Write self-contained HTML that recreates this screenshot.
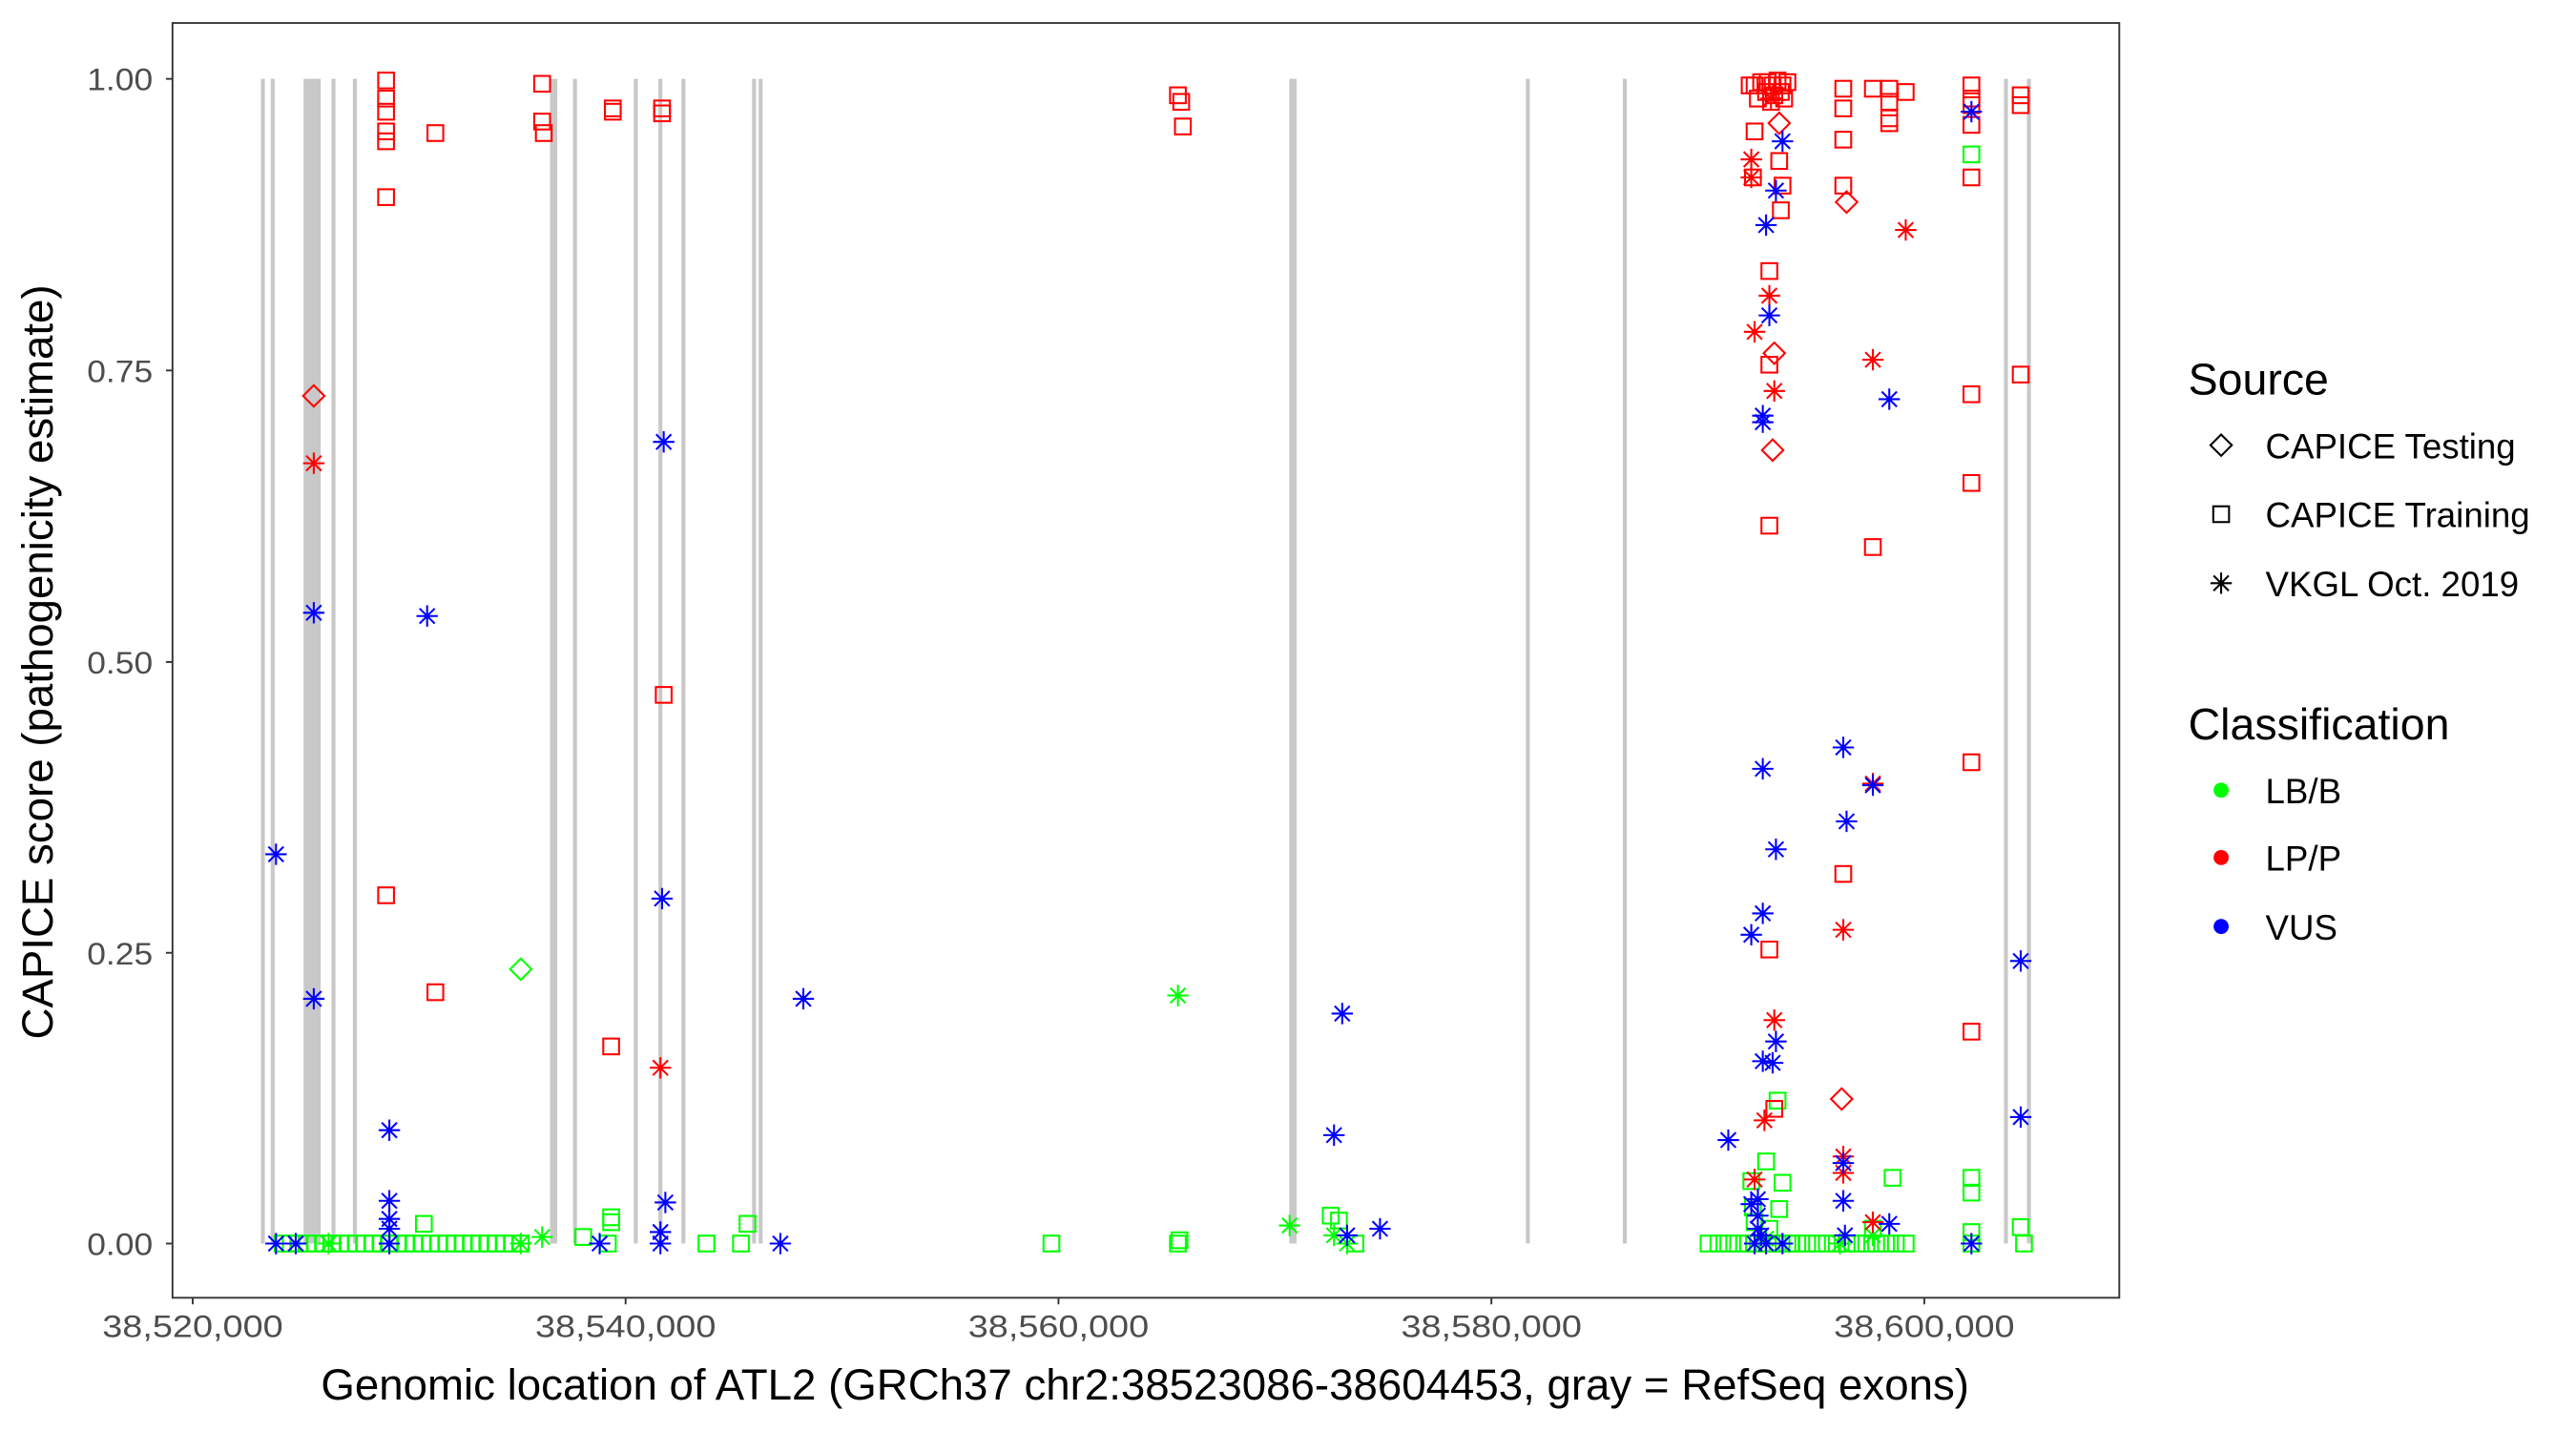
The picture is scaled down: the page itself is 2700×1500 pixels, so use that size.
<!DOCTYPE html>
<html><head><meta charset="utf-8"><style>
html,body{margin:0;padding:0;background:#fff;}
svg{display:block;font-family:"Liberation Sans",Arial,sans-serif;}
</style></head><body>
<svg id="s" width="2700" height="1500" viewBox="0 0 1568 871.1" xmlns="http://www.w3.org/2000/svg">
<rect x="0" y="0" width="1568" height="871.1" fill="#fff"/>
<g id="exons"></g>
<g id="pts"></g>
<rect x="105" y="14" width="1185" height="776" fill="none" stroke="#333" stroke-width="1.1"/>
<g stroke="#333" stroke-width="1.1">
<line x1="101" x2="105" y1="48" y2="48"/><line x1="101" x2="105" y1="225.5" y2="225.5"/><line x1="101" x2="105" y1="403" y2="403"/><line x1="101" x2="105" y1="580" y2="580"/><line x1="101" x2="105" y1="757" y2="757"/>
<line x1="117.3" x2="117.3" y1="790" y2="794"/><line x1="380.8" x2="380.8" y1="790" y2="794"/><line x1="644.3" x2="644.3" y1="790" y2="794"/><line x1="907.8" x2="907.8" y1="790" y2="794"/><line x1="1171.3" x2="1171.3" y1="790" y2="794"/>
</g>
<g fill="#4d4d4d" font-size="19" text-anchor="end">
<text x="93" y="55" textLength="40" lengthAdjust="spacingAndGlyphs">1.00</text><text x="93" y="232.5" textLength="40" lengthAdjust="spacingAndGlyphs">0.75</text><text x="93" y="410" textLength="40" lengthAdjust="spacingAndGlyphs">0.50</text><text x="93" y="587" textLength="40" lengthAdjust="spacingAndGlyphs">0.25</text><text x="93" y="764" textLength="40" lengthAdjust="spacingAndGlyphs">0.00</text>
</g>
<g fill="#4d4d4d" font-size="19" text-anchor="middle">
<text x="117.3" y="814" textLength="110" lengthAdjust="spacingAndGlyphs">38,520,000</text><text x="380.8" y="814" textLength="110" lengthAdjust="spacingAndGlyphs">38,540,000</text><text x="644.3" y="814" textLength="110" lengthAdjust="spacingAndGlyphs">38,560,000</text><text x="907.8" y="814" textLength="110" lengthAdjust="spacingAndGlyphs">38,580,000</text><text x="1171.3" y="814" textLength="110" lengthAdjust="spacingAndGlyphs">38,600,000</text>
</g>
<text x="697" y="852" font-size="26.5" text-anchor="middle" fill="#000">Genomic location of ATL2 (GRCh37 chr2:38523086-38604453, gray = RefSeq exons)</text>
<text transform="translate(32,403) rotate(-90)" font-size="26.5" text-anchor="middle" fill="#000">CAPICE score (pathogenicity estimate)</text>
<g font-size="27" fill="#000"><text x="1332" y="240">Source</text><text x="1332" y="450">Classification</text></g>
<g font-size="21.3" fill="#000">
<text x="1379" y="279">CAPICE Testing</text><text x="1379" y="321">CAPICE Training</text><text x="1379" y="363">VKGL Oct. 2019</text>
<text x="1379" y="489">LB/B</text><text x="1379" y="530">LP/P</text><text x="1379" y="572">VUS</text>
</g>
<g id="leg"></g>
</svg>
<script>
var NS="http://www.w3.org/2000/svg";
function el(p,t,a){var e=document.createElementNS(NS,t);for(var k in a)e.setAttribute(k,a[k]);p.appendChild(e);return e;}
var ex=document.getElementById('exons');
[160,166,186,188,190,192,194,203,216,336,338,350,387,402,416,459,463,786,788,930,989,1221,1235].forEach(function(x){
 el(ex,'line',{x1:x,x2:x,y1:48,y2:757,stroke:'#c8c8c8','stroke-width':2.4});});
var C={g:'#00ff00',r:'#ff0000',b:'#0000ff',k:'#000'};
var P=document.getElementById('pts');
function sym(g,t,c,x,y){
 var col=C[c],sw=1.2;
 if(t=='s'){el(g,'rect',{x:x-4.8,y:y-4.8,width:9.6,height:9.6,fill:'none',stroke:col,'stroke-width':sw});}
 else if(t=='d'){el(g,'path',{d:'M'+x+' '+(y-6.5)+'L'+(x+6.5)+' '+y+'L'+x+' '+(y+6.5)+'L'+(x-6.5)+' '+y+'Z',fill:'none',stroke:col,'stroke-width':sw});}
 else {var r=6.5,q=4.6;el(g,'path',{d:'M'+(x-r)+' '+y+'H'+(x+r)+'M'+x+' '+(y-r)+'V'+(y+r)+'M'+(x-q)+' '+(y-q)+'L'+(x+q)+' '+(y+q)+'M'+(x-q)+' '+(y+q)+'L'+(x+q)+' '+(y-q),fill:'none',stroke:col,'stroke-width':sw});}
}
var D=[];
function add(t,c,arr){for(var i=0;i<arr.length;i+=2)D.push([t,c,arr[i],arr[i+1]]);}
var row=[];for(var x=172;x<=318;x+=5)row.push(x,757);add('s','g',row);
row=[];for(var x=1040;x<=1160;x+=6)row.push(x,757);add('s','g',row);
add('s','g',[258,745,372,741,372,744,455,745,430,757,640,757,717,757,718,755,810,740,815,743,825,757,355,753,370,757,451,757,1232,757,1200,757,1200,94,1075,707,1066,719,1085,720,1067,735,1083,736,1152,717,1200,717,1200,726,1230,747,1200,750,1140,748,1082,670,1068,744,1077,748,1090,757]);
add('d','g',[317,590]);
add('a','g',[717,606,785,746,812,752,820,757,330,753,317,757,1140,752,1075,754,1120,757,200,757]);
add('s','r',[235,49,235,60,235,68,235,80,235,86,235,120,265,81,330,51,330,74,331,81,373,66,373,68,403,66,403,69,235,545,265,604,372,637,404,423,717,58,719,62,720,77,
1065,52,1068,52,1072,50,1076,50,1079,52,1082,49,1085,52,1088,50,1075,56,1080,58,1084,56,1070,60,1078,62,1086,60,
1122,54,1122,66,1140,54,1150,54,1150,62,1160,56,1150,72,1150,75,1200,52,1200,60,1200,64,1230,58,1230,64,
1068,80,1067,108,1083,98,1085,113,1084,128,1122,85,1122,113,1077,165,1077,222,1077,320,1140,333,1122,532,1077,578,1200,76,1200,108,1200,294,1200,464,1200,628,1230,228,1200,240,1080,675]);
add('d','r',[191,241,1083,75,1124,123,1080,215,1079,274,1121,669]);
add('a','r',[191,282,402,650,1066,97,1066,108,1068,202,1077,180,1080,238,1140,219,1160,140,1122,566,1122,704,1122,714,1140,477,1140,744,1080,621,1074,682,1068,718,1078,60]);
add('a','b',[168,520,191,373,191,608,260,375,237,688,237,731,237,742,237,748,237,757,404,269,403,547,405,732,402,750,402,757,489,608,475,757,168,757,180,757,817,617,812,691,840,748,820,752,365,757,
1075,137,1081,116,1085,86,1077,192,1073,253,1073,257,1073,468,1081,517,1066,569,1073,556,1081,634,1079,647,1073,646,1052,694,1122,455,1124,500,1150,243,1140,478,1122,708,1122,731,1150,745,1123,752,1200,68,1230,585,1230,680,1200,757,1070,740,1070,748,1075,757,1085,757,1066,733,1070,730,1072,752,1068,757]);
D.forEach(function(d){sym(P,d[0],d[1],d[2],d[3]);});
var L=document.getElementById('leg');
sym(L,'d','k',1352,271);sym(L,'s','k',1352,313);sym(L,'a','k',1352,355);
el(L,'circle',{cx:1352,cy:481,r:4.6,fill:C.g});el(L,'circle',{cx:1352,cy:522,r:4.6,fill:C.r});el(L,'circle',{cx:1352,cy:564,r:4.6,fill:C.b});
</script>
</body></html>
